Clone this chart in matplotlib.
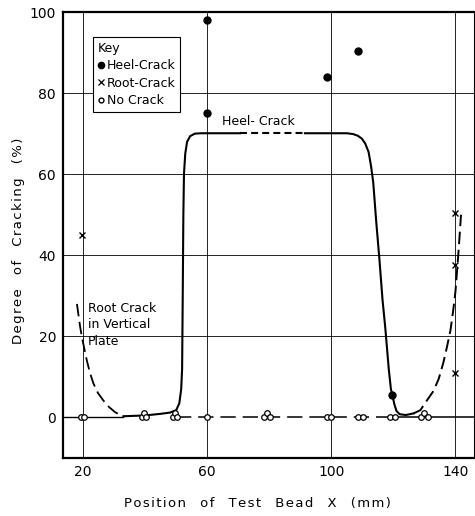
import matplotlib
matplotlib.use("Agg")
import matplotlib.pyplot as plt
from matplotlib.lines import Line2D

plt.rcParams['font.family'] = ['DejaVu Sans']
plt.rcParams['lines.scale_dashes'] = False

# ---- data ----
heel_x = [60, 60, 98.5, 108.7, 119.5]
heel_y = [98, 75, 84, 90.5, 5.5]

root_x = [19.7, 139.7, 139.7, 139.7]
root_y = [45, 50.5, 37.5, 11]

nocrack_x = [19.3, 20.4, 38.9, 39.5, 40.1, 49.0, 49.7, 50.4, 60.0, 78.3, 79.3, 80.3,
             98.5, 99.9, 108.6, 110.3, 118.8, 120.4, 129.0, 129.9, 131.2]
nocrack_y = [0, 0, 0, 1, 0, 0, 1, 0, 0, 0, 1, 0,
             0, 0, 0, 0, 0, 0, 0, 1, 0]

# heel-crack curve (solid, left part)
heelA_x = [33, 40, 45, 48, 50, 51, 51.6, 51.9, 52.1, 52.3, 52.5, 52.9, 53.5, 54.5, 56, 58, 70.6]
heelA_y = [0.3, 0.5, 0.9, 1.2, 1.8, 3.5, 7, 12, 30, 50, 60, 65, 68, 69.4, 70, 70.1, 70.1]
# heel-crack plateau (dashed)
heelD_x = [70.6, 91.5]
heelD_y = [70.1, 70.1]
# heel-crack curve (solid, right part)
heelB_x = [91.5, 105, 107, 108.5, 109.8, 110.9, 112, 112.8, 113.5, 114.5, 115.5, 116.5,
           117.4, 118.5, 119.2, 119.7, 120.3, 121, 122, 124, 126.5]
heelB_y = [70.1, 70.1, 69.9, 69.5, 68.8, 67.6, 65.5, 62, 58, 48, 39, 29,
           22, 12, 7, 5.4, 3.3, 1.6, 0.8, 0.6, 1.0]

# root-crack curves (dashed)
rootL_x = [18, 19, 19.6, 20.5, 21.2, 22.2, 23.3, 24.8, 26.5, 28.3, 30.3, 33]
rootL_y = [28, 22.5, 19.8, 16.5, 14, 11, 8.4, 6, 4.2, 2.6, 1.3, 0.2]
rootR_x = [126.5, 128.7, 130.8, 132.9, 134.6, 136.1, 137.3, 138.4, 139.3, 140, 140.5, 141, 141.4, 141.8]
rootR_y = [1.0, 1.8, 4.2, 6.5, 9.5, 13.5, 17.5, 21.5, 26.5, 31, 36, 41, 45.5, 50]

# no-crack baseline
base_solid_left = [13.5, 33]
base_dashed = [50, 121]
base_solid_right = [121, 146]

xticks = [20, 60, 100, 140]
yticks = [0, 20, 40, 60, 80, 100]

xlabel_text = 'Position of Test Bead X (mm)'
ylabel_text = 'Degree of Cracking (%)'


def spaced(s):
    out = []
    for ch in s:
        if ch == ' ':
            out.append('   ')
        else:
            out.append(ch + '\u200a')
    return ''.join(out).rstrip('\u200a')


# ---- figure ----
fig = plt.figure(figsize=(4.75, 5.16), dpi=100)
ax = fig.add_axes([0.1326, 0.1124, 0.8654, 0.8643])
ax.set_xlim(13.5, 146)
ax.set_ylim(-10, 100)

for xv in xticks:
    ax.axvline(xv, color='black', lw=0.6, zorder=1)
for yv in yticks[1:-1]:
    ax.axhline(yv, color='black', lw=0.6, zorder=1)

# baseline at 0
ax.plot(base_solid_left, [0, 0], color='black', lw=1.0, zorder=2)
ax.plot(base_dashed, [0, 0], color='black', lw=1.1, dashes=(11, 5), zorder=2)
ax.plot(base_solid_right, [0, 0], color='black', lw=1.1, zorder=2)

# heel-crack curve
ax.plot(heelA_x, heelA_y, color='black', lw=1.5, zorder=3, solid_joinstyle='round')
ax.plot(heelD_x, heelD_y, color='black', lw=1.5, dashes=(5, 3), zorder=3)
ax.plot(heelB_x, heelB_y, color='black', lw=1.5, zorder=3, solid_joinstyle='round')

# root-crack curves
ax.plot(rootL_x, rootL_y, color='black', lw=1.3, dashes=(9, 4), zorder=3)
ax.plot(rootR_x, rootR_y, color='black', lw=1.4, dashes=(9, 4), zorder=3)

# markers
ax.plot(nocrack_x, nocrack_y, 'o', ms=4, mfc='white', mec='black', mew=0.9, ls='none', zorder=5)
ax.plot(heel_x, heel_y, 'o', ms=5, color='black', ls='none', zorder=5)
ax.plot(root_x, root_y, 'x', ms=5, color='black', mew=1.0, ls='none', zorder=5)

# annotations
ax.text(64.8, 73, 'Heel- Crack', fontsize=9, ha='left', va='center')
ax.text(21.6, 28.5, 'Root Crack\nin Vertical\nPlate', fontsize=9, ha='left', va='top', linespacing=1.35)

# legend
handles = [
    Line2D([], [], marker='o', color='black', ms=4.5, ls='none'),
    Line2D([], [], marker='x', color='black', ms=4, mew=0.9, ls='none'),
    Line2D([], [], marker='o', mfc='white', mec='black', ms=3.5, ls='none'),
]
leg = ax.legend(handles, ['Heel-Crack', 'Root-Crack', 'No Crack'], title='Key',
                loc='upper left', bbox_to_anchor=(0.073, 0.944), fontsize=9,
                title_fontsize=9, alignment='left', handlelength=0.5,
                handletextpad=0.2, borderpad=0.4, labelspacing=0.35,
                fancybox=False, framealpha=1, edgecolor='black', borderaxespad=0)
leg.get_frame().set_linewidth(0.8)
leg.set_zorder(6)

# axes styling
ax.set_xticks(xticks)
ax.set_yticks(yticks)
ax.tick_params(length=0, labelsize=10, pad=5)
for s in ['left', 'bottom', 'top']:
    ax.spines[s].set_linewidth(1.6)
ax.spines['right'].set_linewidth(0.8)

ax.set_xlabel(spaced(xlabel_text), fontsize=9.5)
ax.xaxis.set_label_coords(0.474, -0.088)
ax.set_ylabel(spaced(ylabel_text), fontsize=9.5)
ax.yaxis.set_label_coords(-0.092, 0.487)

fig.savefig('out.png', dpi=100)
